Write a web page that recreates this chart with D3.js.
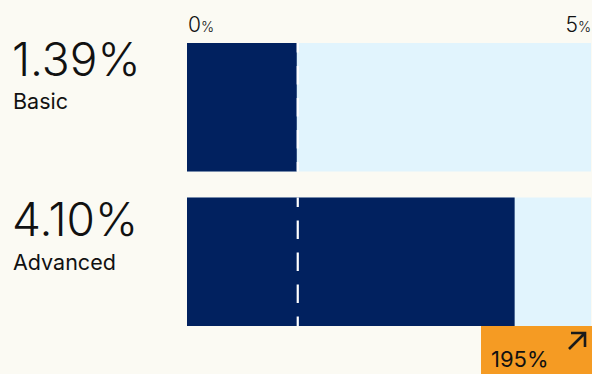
<!DOCTYPE html>
<html><head><meta charset="utf-8">
<script src="https://cdn.jsdelivr.net/npm/d3@7"></script>
<style>
html,body{margin:0;padding:0;background:#fbfaf2;}
svg{display:block;}
text{font-family:Inter,"Open Sans",sans-serif;fill:#111;}
</style></head>
<body><svg id="c" width="592" height="374"></svg>
<script>
const categories = ["Basic", "Advanced"];
const values = [1.39, 4.10];
const tickValues = [0, 5];
const changeLabel = "195%";

const W = 592, H = 374;
const svg = d3.select("#c");
svg.append("rect").attr("width", W).attr("height", H).attr("fill", "#fbfaf3");

const x = d3.scaleLinear().domain([0, 5]).range([187, 589]);
const bh = 128.5;
const yTop = d => d === categories[0] ? 43 : 197.5;
const numBase = [76, 236];
const labBase = [109, 270];

const g = svg.append("g");
// track
g.selectAll("rect.track").data(categories).join("rect")
  .attr("x", x(0)).attr("y", d => yTop(d)).attr("width", 591 - x(0)).attr("height", bh)
  .attr("fill", "#e1f4fd");
// bars
g.selectAll("rect.bar").data(values).join("rect")
  .attr("x", x(0)).attr("y", (d, i) => yTop(categories[i])).attr("width", d => x(d) - x(0) - 2).attr("height", bh)
  .attr("fill", "#01215f");
// dashed reference line at baseline value
g.selectAll("line.ref").data(categories).join("line")
  .attr("x1", x(values[0]) - 1).attr("x2", x(values[0]) - 1)
  .attr("y1", d => yTop(d)).attr("y2", d => yTop(d) + bh)
  .attr("stroke", "#ffffff").attr("stroke-width", 2.2)
  .attr("stroke-dasharray", "18.5,13.5").attr("stroke-dashoffset", 9);

// axis tick labels
tickValues.forEach((t, i) => {
  const tx = svg.append("text")
    .attr("x", i === 0 ? x(t) + 1 : 591)
    .attr("y", 32)
    .attr("text-anchor", i === 0 ? "start" : "end");
  tx.append("tspan").attr("font-size", 21).attr("font-weight", 300).text(t);
  tx.append("tspan").attr("font-size", 14).attr("font-weight", 300).text("%");
});

// left labels
categories.forEach((c, i) => {
  svg.append("text").attr("x", 12).attr("y", numBase[i])
    .attr("font-size", 46).attr("font-weight", 300)
    .text(values[i].toFixed(2) + "%");
  svg.append("text").attr("x", 13).attr("y", labBase[i])
    .attr("font-size", 21.5).attr("font-weight", 400)
    .text(c);
});

// change badge
const bx = 481, by = 326;
svg.append("rect").attr("x", bx).attr("y", by).attr("width", W - bx).attr("height", H - by)
  .attr("fill", "#f59b23");
svg.append("text").attr("x", 491).attr("y", 367).attr("font-size", 22).attr("font-weight", 400)
  .text(changeLabel);
svg.append("path").attr("d", "M569,349 L585,333 M571,333 L585,333 L585,347")
  .attr("fill", "none").attr("stroke", "#1a1a1a").attr("stroke-width", 2.6);
</script></body></html>
